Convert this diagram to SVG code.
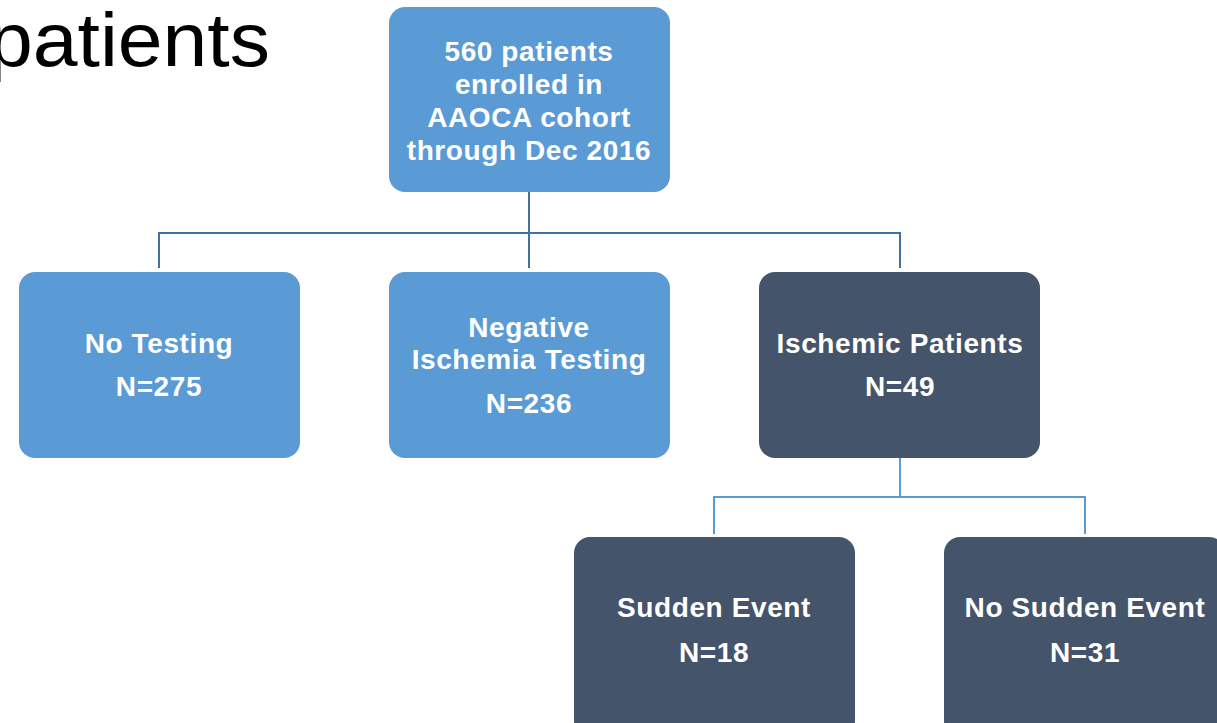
<svg xmlns="http://www.w3.org/2000/svg" width="1217" height="723" viewBox="0 0 1217 723">
<style>
.lt{fill:#5B9BD5}
.dk{fill:#44546A}
.t{font-family:"Liberation Sans",Arial,sans-serif;font-weight:bold;font-size:28px;letter-spacing:0.6px;fill:#fff;text-anchor:middle}
.c1{stroke:#41719C;stroke-width:2;fill:none}
.c2{stroke:#5B9BD5;stroke-width:2;fill:none}
</style>
<rect width="1217" height="723" fill="#fff"/>
<text x="-12" y="66" font-family="'Liberation Sans',Arial,sans-serif" font-size="76" textLength="282" lengthAdjust="spacingAndGlyphs" fill="#000">patients</text>
<g id="connectors">
<path class="c1" d="M529 192V233M159 268V233H900V268M529 233V268"/>
<path class="c2" d="M900 458V497M714 534V497H1085V534"/>
</g>
<g id="n1"><rect class="lt" x="389" y="7" width="281" height="185" rx="16"/>
<text class="t" x="529" y="61">560 patients</text><text class="t" x="529" y="94">enrolled in</text><text class="t" x="529" y="127">AAOCA cohort</text><text class="t" x="529" y="160">through Dec 2016</text></g>
<g id="n2"><rect class="lt" x="19" y="272" width="281" height="186" rx="16"/>
<text class="t" x="159" y="353">No Testing</text><text class="t" x="159" y="396">N=275</text></g>
<g id="n3"><rect class="lt" x="389" y="272" width="281" height="186" rx="16"/>
<text class="t" x="529" y="337">Negative</text><text class="t" x="529" y="369">Ischemia Testing</text><text class="t" x="529" y="413">N=236</text></g>
<g id="n4"><rect class="dk" x="759" y="272" width="281" height="186" rx="16"/>
<text class="t" x="900" y="353">Ischemic Patients</text><text class="t" x="900" y="396">N=49</text></g>
<g id="n5"><rect class="dk" x="574" y="537" width="281" height="200" rx="16"/>
<text class="t" x="714" y="617">Sudden Event</text><text class="t" x="714" y="662">N=18</text></g>
<g id="n6"><rect class="dk" x="944" y="537" width="281" height="200" rx="16"/>
<text class="t" x="1085" y="617">No Sudden Event</text><text class="t" x="1085" y="662">N=31</text></g>
</svg>
